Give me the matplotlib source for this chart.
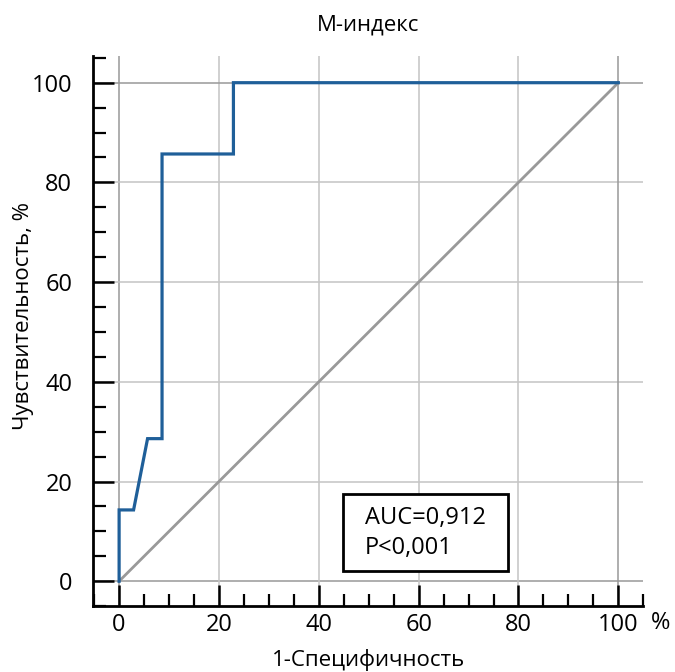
import numpy as np
import matplotlib
matplotlib.use("Agg")
import matplotlib.pyplot as plt
from matplotlib.ticker import MultipleLocator
from matplotlib.patches import Rectangle

plt.rcParams['font.family'] = ['Open Sans', 'DejaVu Sans']

# ROC curve points (1-specificity, sensitivity), %
fpr = [0, 0, 2.9, 5.7, 8.6, 8.6, 22.9, 22.9, 100]
tpr = [0, 14.3, 14.3, 28.6, 28.6, 85.7, 85.7, 100, 100]
ref_line = [0, 100]
auc_text = "AUC=0,912\nP<0,001"
title = "М-индекс"
xlabel = "1-Специфичность"
ylabel = "Чувствительность, %"

fig = plt.figure(figsize=(6.75, 6.72), dpi=100)
ax = fig.add_axes([0.138, 0.098, 0.815, 0.819])

ax.set_xlim(-5.2, 105)
ax.set_ylim(-5, 105.4)

# grid
for v in range(0, 101, 20):
    c = '#999999' if v in (0, 100) else '#c4c4c4'
    ax.axvline(v, color=c, lw=1.1, zorder=1)
    ax.axhline(v, color=c, lw=1.1, zorder=1)

ax.plot(ref_line, ref_line, color='#999999', lw=2, zorder=2)
ax.plot(fpr, tpr, color='#1f5f99', lw=2.3, zorder=3, solid_joinstyle='miter')

for s in ['top', 'right']:
    ax.spines[s].set_visible(False)
for s in ['left', 'bottom']:
    ax.spines[s].set_linewidth(2)

ax.xaxis.set_major_locator(MultipleLocator(20))
ax.yaxis.set_major_locator(MultipleLocator(20))
ax.xaxis.set_minor_locator(MultipleLocator(5))
ax.yaxis.set_minor_locator(MultipleLocator(5))
ax.tick_params(which='major', direction='in', length=15, width=1.8, labelsize=17)
ax.tick_params(which='minor', direction='in', length=9, width=1.6)
ax.tick_params(axis='x', which='major', pad=5)
ax.tick_params(axis='y', which='major', pad=15)

ax.text(106.6, -6.0, "%", fontsize=17, ha='left', va='top', clip_on=False)

ax.set_title(title, fontsize=16, pad=18)
ax.set_xlabel(xlabel, fontsize=16)
ax.set_ylabel(ylabel, fontsize=16)
ax.xaxis.set_label_coords(0.5, -0.078)
ax.yaxis.set_label_coords(-0.108, 0.527)

# annotation box
ax.add_patch(Rectangle((44.9, 2.0), 33.1, 15.5, fc='white', ec='black', lw=2, zorder=5))
ax.text(49.3, 9.7, auc_text, fontsize=17, ha='left', va='center', linespacing=1.3, zorder=6)

fig.savefig("out.png", dpi=100)
